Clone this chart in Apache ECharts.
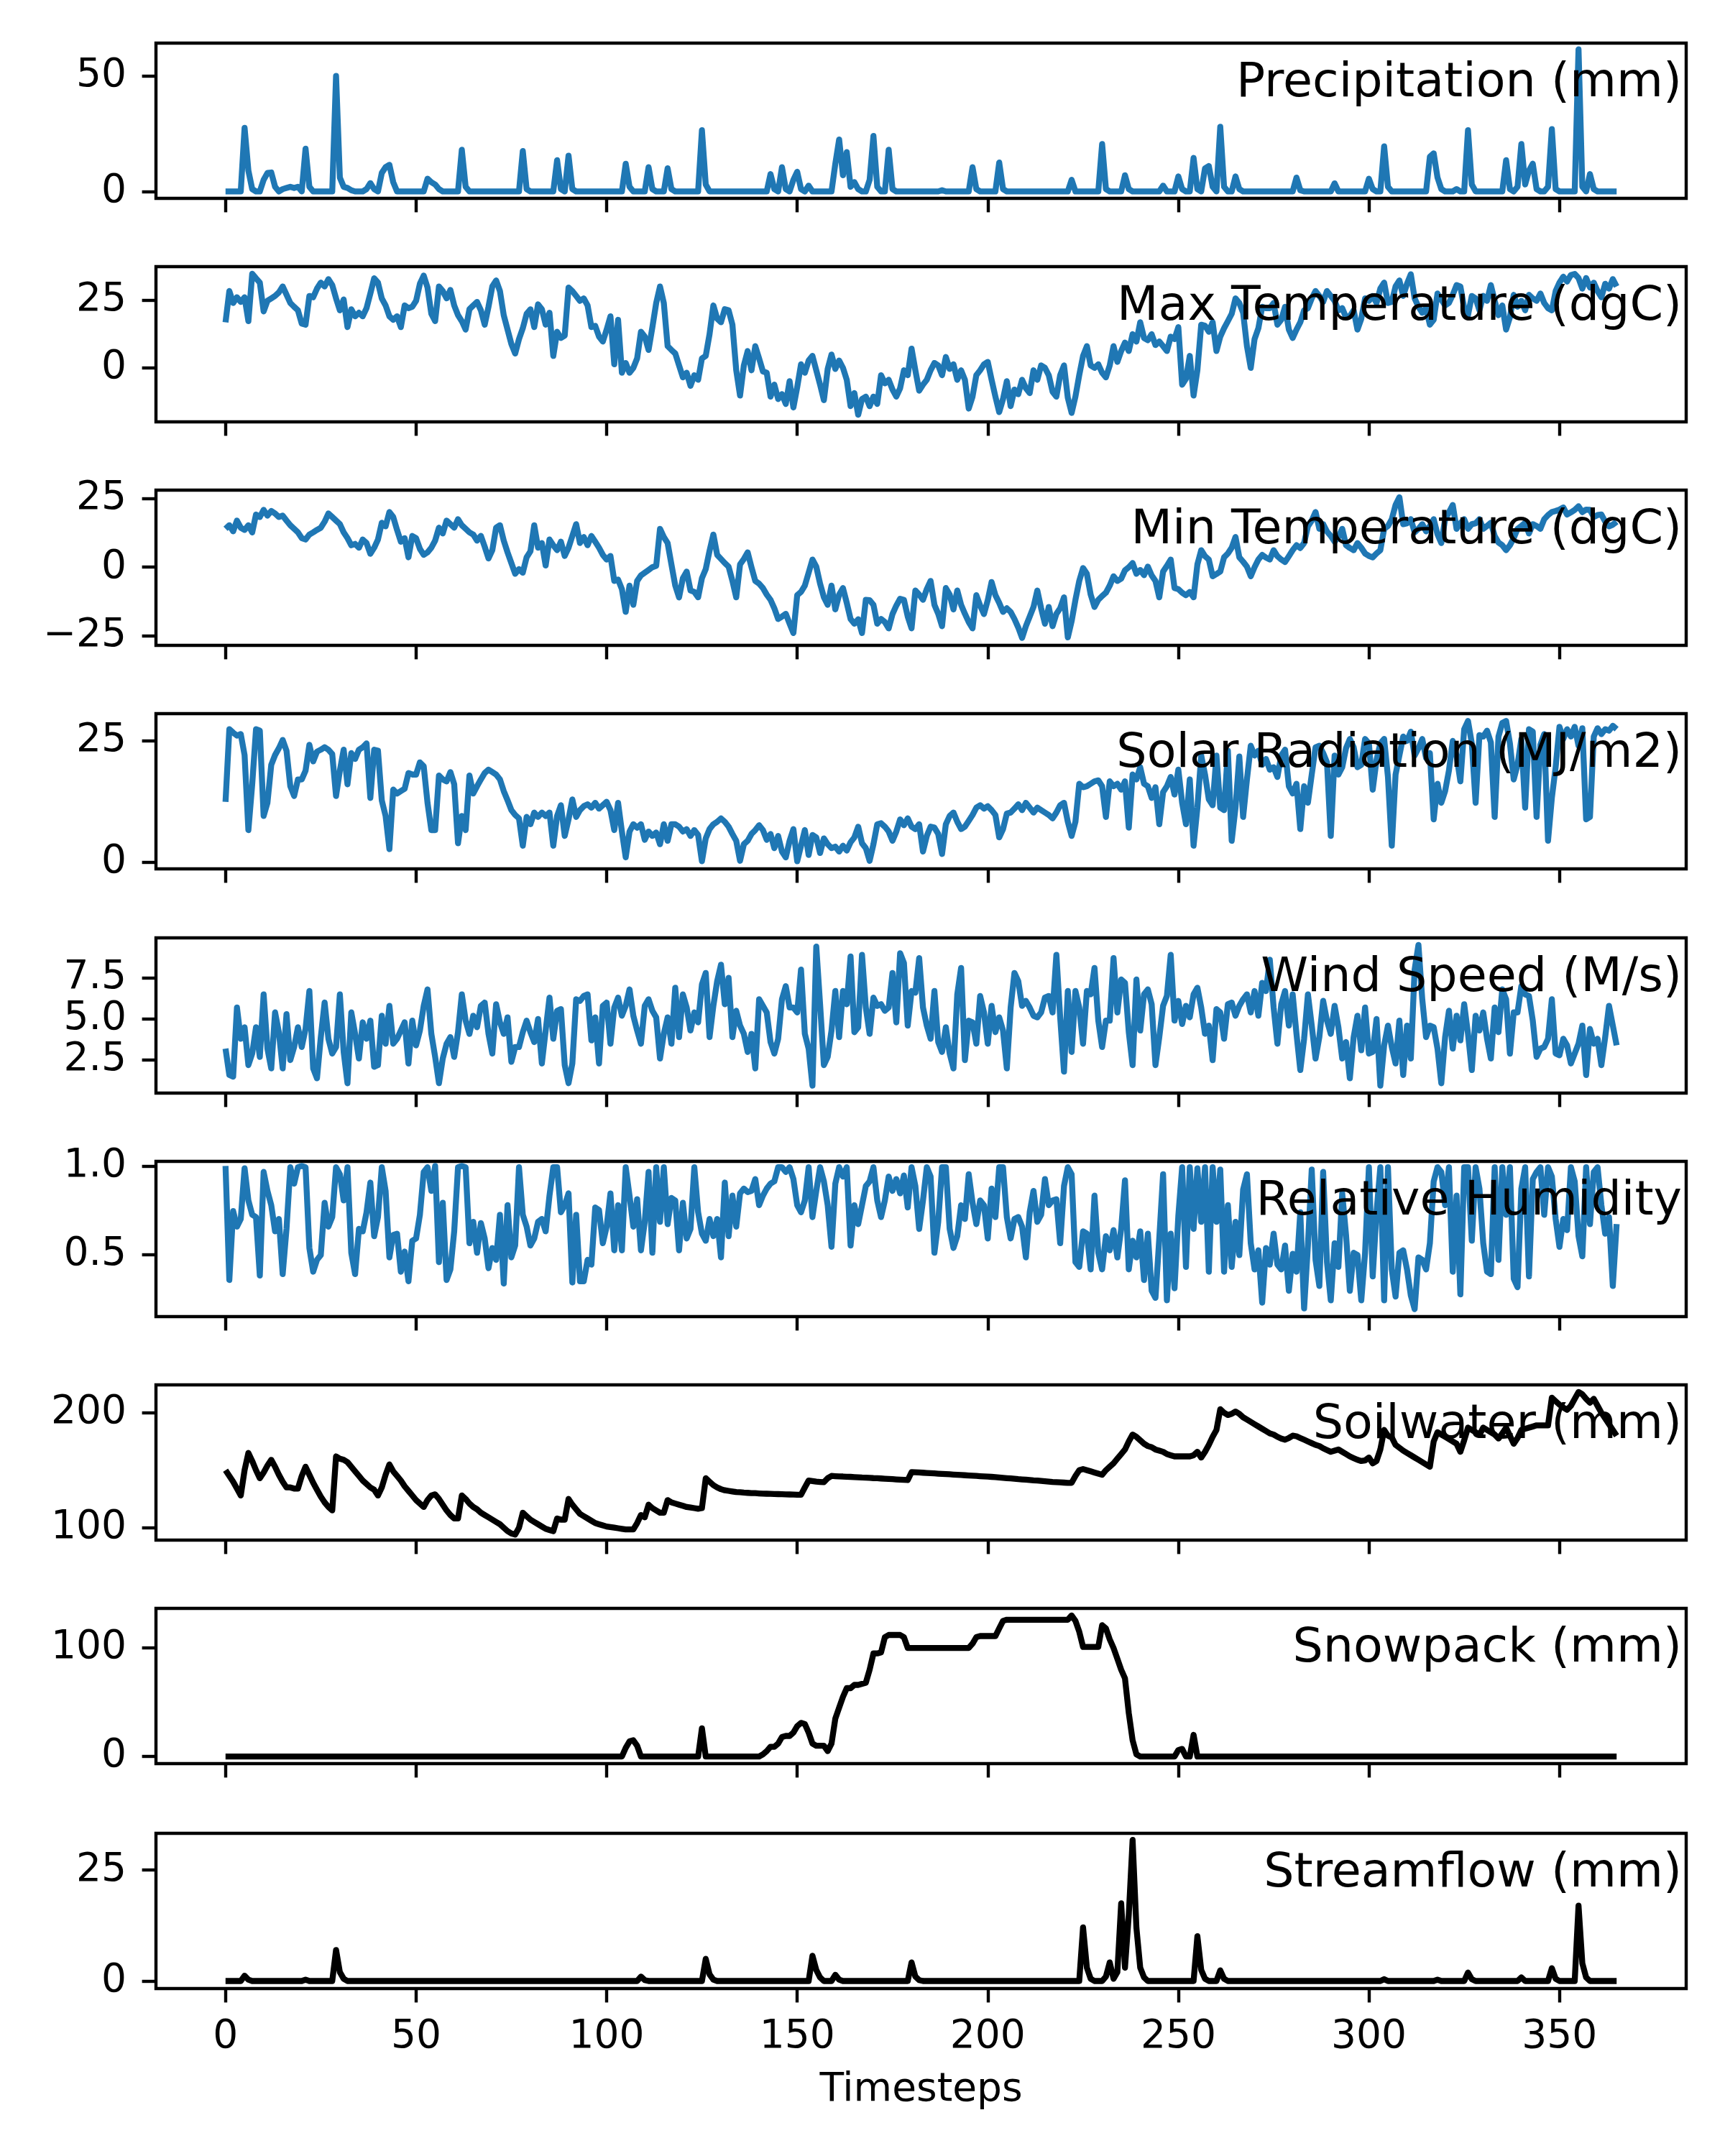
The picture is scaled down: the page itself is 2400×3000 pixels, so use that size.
<!DOCTYPE html>
<html>
<head>
<meta charset="utf-8">
<script src="https://cdn.jsdelivr.net/npm/echarts@6/dist/echarts.min.js"></script>
<style>html,body{margin:0;padding:0;background:#fff;}#c{width:2400px;height:3000px;}</style>
</head>
<body>
<div id="c"></div>
<script>
// ---------------- DATA ----------------
const panelTitles = ["Precipitation (mm)","Max Temperature (dgC)","Min Temperature (dgC)","Solar Radiation (MJ/m2)","Wind Speed (M/s)","Relative Humidity","Soilwater (mm)","Snowpack (mm)","Streamflow (mm)"];
const xTicks = [0,50,100,150,200,250,300,350];
const yTicks = [[0,50],[0,25],[-25,0,25],[0,25],[2.5,5,7.5],[0.5,1.0],[100,200],[0,100],[0,25]];
const yLimits = [[-3.0,64.2],[-19.9,37.3],[-28.5,28.1],[-1.36,30.5],[0.5,9.93],[0.148,1.026],[89.2,224.2],[-6.5,136.5],[-1.7,33.3]];

// precipitation: days with non-zero rain [day, mm]; all other days are 0
const precipEvents = [[5,27.5],[6,9],[7,1],[10,5],[11,8],[12,8.2],[13,2],[15,1],[16,1.5],[17,2],[18,1.5],[19,2],[21,18.5],[22,2],[29,50],[30,6],[31,2],[32,1.5],[33,0.5],[37,1],[38,3.6],[39,1],[41,8],[42,10.5],[43,11.5],[44,4],[53,5.5],[54,4],[55,3],[56,1],[62,18],[63,2],[78,17.5],[79,1],[87,13.5],[88,1],[90,15.5],[91,1],[105,12],[106,2],[111,10.5],[112,1],[116,10],[117,1],[125,26.5],[126,3],[143,7.5],[144,1],[146,10.5],[147,1],[149,5],[150,8.5],[151,1],[153,2.5],[160,12],[161,22.5],[162,7],[163,17],[164,2],[165,4],[166,1],[169,5],[170,24],[171,2],[174,18],[175,1],[188,0.5],[196,10.5],[197,1],[203,12.5],[204,1],[222,5],[230,20.5],[231,1],[236,7],[237,1],[246,2.5],[250,6.5],[251,1],[254,14.5],[255,1],[257,10],[258,11],[259,2],[261,28],[262,2],[265,6.5],[266,1],[281,6],[282,0.5],[291,3.5],[300,5.5],[301,1],[304,19.5],[305,2],[316,15],[317,16.5],[318,6],[319,1],[323,1],[326,26.5],[327,3],[336,13.5],[337,1],[339,2],[340,20.5],[341,3],[342,9],[343,12],[344,1],[347,2],[348,27],[349,1],[355,61.5],[356,2],[358,7.5],[359,1]];

const maxTemp = [16.8,28.3,23.9,26,24.3,26,17.2,34.7,33,31.4,20.8,24.7,25.6,26.5,27.8,30,27,23.9,22.5,21.2,16.3,15.9,26.5,26,29.2,31.4,30,32.7,30.5,25.6,21.2,25.2,15,21.6,19,20.3,19,22,27.4,33,31.4,25.6,23,19,17.7,19,15,23,22,22.5,24.7,31,34,29.6,19.9,17.2,30,28.3,25.6,28.7,23,19.4,17.2,14.1,21.6,23,24.3,21.2,15.9,22.5,30,32.2,28.3,19.4,14.1,8.8,5.3,10.6,14.6,19.9,21.6,15,23.4,21.6,15.9,20.3,4.4,13.3,11,11.9,29.6,28.3,26.5,24.7,25.6,23,15,15.5,11.5,9.7,14.1,19,1.3,17.7,-1.8,1.8,-1.8,0,3.5,13.3,11.5,6.6,15,23.9,30,23.9,8,6.6,5.3,0.9,-3.5,-1.8,-6.6,-2.7,-4.4,3.5,4.4,12.4,23,18.1,16.8,21.6,21.2,15.9,-0.9,-10.2,0.9,6.2,-0.9,8,3.5,-1.3,-1.8,-10.6,-6.2,-11.5,-9.7,-13.3,-4.9,-14.6,-7.1,1.3,-1.8,2.7,4.4,-0.9,-6.2,-11.9,-0.4,4.9,-0.4,2.7,0,-4.4,-14.1,-9.3,-17.3,-11.5,-10.6,-14.1,-10.6,-13.3,-2.7,-5.7,-4.4,-8,-10.6,-7.5,-0.9,-2.7,7.1,-0.9,-8.4,-6.2,-4.4,-0.9,1.8,0.9,-2.7,4,-0.4,1.3,-4.4,-0.9,-4.4,-15,-10.6,-2.7,-0.9,1.3,2.2,-4.4,-10.6,-16.3,-11.5,-4.9,-14.1,-8,-9.7,-4.4,-7.5,-9.3,-0.9,-4.4,0.9,0,-2.7,-8.8,-10.6,-2.7,0.9,-11,-16.6,-10.6,-2.7,4.4,8,0.9,0,1.3,-1.8,-3.5,0.9,8,2.2,6.2,9.3,6.2,12.4,9.7,16.8,11,10.2,12.4,8.4,9.7,8,6.2,11.5,10.6,15,-6.2,-4,4.4,-10.2,-0.9,15.9,15.5,13.3,16.8,6.2,11.5,14.6,17.2,19.9,25.6,23.9,20.3,8,0,10.6,14.6,22.5,22,22,23.9,15.9,17.7,22.5,14.1,11,14.1,16.8,21.2,22,25.6,28.3,26.5,24.3,28.3,26.5,24.7,21.2,22,18.6,19,21.2,14.1,18.1,25.6,24.7,26.5,23.9,29.2,31.4,23.9,24.3,30,32.2,26.5,31,34.5,25.6,22.5,20.3,22,15.9,17.7,27.4,25.2,23,23.9,26.9,30.5,30,22,19.4,26.5,25.6,21.2,26.5,24.7,30.5,24.7,19.4,23,14.1,18.6,26.9,22.5,24.7,21.2,26.9,25.6,24.7,27.4,23.9,22,21.2,28.3,31.4,33.6,31.8,34.2,34.6,33.1,29.2,33.1,29.6,31.4,28.3,26,31,29.2,32.7,30];

const minTemp = [14,15.3,13.1,17,14.4,13.6,15.3,12.7,19.2,18.3,20.9,18.8,20.5,19.6,18.3,18.8,17,15.3,14,12.7,10.6,10.1,11.9,12.7,13.6,14.4,16.6,19.6,18.3,17,15.7,12.7,10.6,8,8.5,7.1,10.1,8.8,4.9,7.1,10.1,16.2,14.9,20.1,18.3,13.6,9.3,10.6,3.6,11.4,10.6,6.7,4.5,5.4,7.1,9.7,14.4,12.3,17,15.7,14.4,17.5,15.3,14,12.7,11.9,9.7,11.4,7.5,3.2,6.2,14.4,15.3,9.7,5.4,1.5,-2.4,-0.7,-2,3.6,5.8,15.3,7.1,8.8,0.6,10.1,8,6.2,9.3,4.1,7.1,11.4,15.7,8.8,11,8,11.4,9.3,7.1,4.5,2.8,4.1,-5,-4.5,-8,-16.3,-6.7,-13.7,-5,-3,-2,-1,0,0.5,14,11,8.8,1,-6.7,-11,-4,-1.6,-8.5,-9,-11,-4,-0.7,6,11.9,4.5,3,1.5,0.2,-5,-11,1,3,5.4,0,-5,-6,-7.6,-10,-11.9,-15,-18.9,-18,-17,-20.6,-24,-10.2,-9,-6.7,-2,2.8,0.2,-6,-11,-13.7,-6.7,-15.4,-10,-7.6,-13,-18.9,-20.6,-19,-24,-11.9,-12,-13.7,-20.6,-18.9,-20,-22.3,-17.1,-14,-11.5,-11.9,-18,-22.3,-8.5,-10,-11.9,-8,-5,-13.7,-17,-21.5,-7.6,-10,-15.4,-8.5,-13.7,-17,-20,-22.3,-10.2,-14,-17.1,-12,-5.4,-10.2,-13,-16.3,-15,-16.3,-18.9,-22,-25.8,-21.5,-18,-14.5,-8.5,-15,-20.6,-14.5,-21.5,-17,-15,-11,-25.6,-19.7,-11.9,-5,-0.3,-2.4,-10,-14.5,-11.9,-10.5,-9.3,-6.7,-3.3,-5,-4.2,-1.1,0,1.5,-2.4,-1,-2.9,0.2,-3,-5,-11,-1.6,0.5,2.8,-7.6,-8,-9.3,-10.2,-9,-11,1,6.2,4,2.8,-3.3,-2.5,-1.6,3.6,5,7.1,11,3.6,2,0.2,-3.3,0,2.8,4.5,3.5,2.8,6.2,4,2.8,1.9,4,6.2,8,7,8.8,14.9,17,20.1,14,15.7,13,11.4,9.3,11,14,8,7,6.2,8.8,7.1,5,4.1,3.6,5,6.2,14,15,17.5,22.7,25.5,15.7,16,17.5,12.7,14,15.7,13.1,15,17.5,12,8.8,17.5,20,22.7,14,16,17.5,14,15.7,16,17.5,14,15,16.2,11.4,9,8,6.2,8,10.6,14,15,16.2,12.3,15.7,15,14,17.5,19,20.1,20.5,21,21.8,19.2,20,20.9,22.2,20.1,21,20.9,18.3,19,19.2,16.6,14.9,15.5,16.6];

const solarRad = [12.4,27.3,26.6,26,26.3,22,6.6,16,27.3,27,9.5,12.2,20,22,23.4,25.1,22.9,15.6,13.6,17,17,18.8,24.1,20.7,22.7,23.1,23.6,23.1,22.2,13.6,18.8,23.1,16,22.4,21.2,23.1,23.6,24.4,13.2,23.1,22.9,12.7,9.5,2.7,14.9,14.1,14.6,15.1,18.3,18,18,20.5,19.7,12.2,6.6,6.6,17.8,17,16.6,18.5,16,3.9,9.5,6.6,17.8,14.1,15.6,17,18.3,19,18.5,18,17,14.6,12.7,10.7,9.7,9,3.4,9.3,7.8,10.2,9.3,10.2,9.5,10.2,3.4,9.5,11.7,5.4,8.8,12.9,9.3,10.7,11.5,11.9,11.2,12.2,11,11.7,12.4,10.7,6.6,12.2,6.3,1,6.3,7.8,7.1,7.8,4.6,6.3,5.4,6.1,3.7,7.8,4.4,7.8,7.8,7.3,6.3,6.8,5.4,6.6,5.6,0.2,4.9,6.8,7.8,8.3,9,8.3,7.3,5.8,4.4,0.3,3.7,4.4,5.8,6.6,7.6,6.6,4.6,5.8,2.9,5.4,2.2,1,4.4,6.8,0.2,3.4,6.6,1.5,5.6,5.1,1.9,4.9,3.7,2.9,3.2,2.2,3.4,2.4,4.1,5.1,7.3,3.9,2.9,0.3,3.7,7.8,8,7.3,6.3,4.4,6.3,8.8,7.6,9,7.3,6.8,7.8,2.2,5.4,7.3,7.1,5.8,1.7,7.8,9.5,10.2,8.3,6.8,7.3,8.5,9.7,11.2,11.7,11,11.5,10.7,9.7,5.1,6.8,10,10.2,11,11.9,10.7,12.2,11.2,10.2,11.2,10.7,10.2,9.7,9,10.2,11.7,12.2,8.3,5.4,8.3,16.1,15.4,15.6,16.1,16.6,16.8,15.6,9.3,16.6,15.6,16.1,14.9,16.6,7.1,18,17,19.5,16.1,15.6,13.2,15.4,7.8,14.4,15.6,17.5,13.9,19,12.2,7.8,17,3.4,11.2,21.9,18,12.9,11.7,21.9,11.2,10.7,22.9,4.4,11.2,21.7,9.3,17,23.9,21.9,22.9,20,21.2,19,19.5,17.5,21.9,23.1,15.6,14.1,16.1,6.8,15.6,12.2,18,23.6,23.9,22.4,20.5,5.4,21.9,18,19.5,23.4,25.3,23.6,19.5,20,25.3,24.4,14.9,21,24.4,25.3,17.5,3.4,18,21.9,25.8,24.9,26.8,21.9,23.4,25.3,21.4,22.4,8.8,16.1,12.2,14.6,18.8,24.9,21.9,16.6,27.3,29,24.4,12.2,26.1,25.8,27,24.6,9.3,25.8,28.6,29,24.4,17,20,25.3,11.2,27.3,26.8,9.3,24.1,26.3,4.4,13.2,19.5,27.8,25.3,27.3,25.8,27.8,23.9,27.5,8.8,9.3,25.8,27.5,26.3,27.3,27,28,27.3];

const windSpeed = [3.2,1.6,1.5,5.7,3.8,4.5,2.2,2.9,4.5,2.7,6.5,3.2,2,5.4,4.2,2,5.3,2.5,3.3,4.5,3.3,4.4,6.7,2,1.4,3.9,6,3.8,2.9,3.3,6.5,3,1.1,5.4,4.1,2.6,4.8,3.8,4.9,2.1,2.2,5.2,3.5,5.8,3.5,3.8,4.3,4.8,2.3,4.9,3.4,4.3,5.8,6.8,4.1,2.7,1.1,2.6,3.5,3.9,2.7,4.2,6.5,4.9,4.1,5.2,4.5,5.8,6,4.1,2.9,5.9,4.8,4.1,5.1,2.4,3.3,3.3,4.2,4.9,4.2,3.6,5,2.3,4.3,6.3,3.8,5.5,5.6,2.2,1.1,2.3,6.2,6.1,6.4,6.5,3.7,5.1,2.3,5.8,6,3.5,5.7,6.3,5.2,5.8,6.8,5.2,4.3,3.5,5.8,6.2,5.5,5.1,2.6,4.1,5.1,3.5,6.9,3.9,6.5,5.7,4.3,5.4,4.8,7.1,7.8,3.9,5.8,7.3,8.3,5.9,7.5,3.9,5.5,4.6,4.1,3,4.1,2,6.2,5.8,5.4,3.6,2.9,3.8,6.2,7,5.7,5.7,5.4,8,4.1,3.2,0.95,9.4,5.9,2.2,2.7,4.3,6.7,3.9,6.7,5.9,8.8,4.2,4.5,8.9,5.7,4.1,6.3,5.8,5.9,5.5,5.7,7.8,4.8,9,8.4,4.6,6.7,6.6,8.7,5.7,4.6,3.8,6.7,3.6,3,4.5,2.9,2,6.5,8.1,2.5,4.9,4.8,3.5,6.4,5.4,3.5,5.8,4.2,5.1,4.3,2,5.7,7.8,7.3,5.8,6.1,5.7,5.2,5.1,5.4,6.3,6.4,5.4,8.9,5.1,1.8,6.7,3,6.7,5.7,3.5,6.7,6.5,8.1,4.9,3.3,4.9,4.9,8.7,5.4,7.4,7.2,4.2,2.2,7.4,4.3,6.5,6.8,5.9,2.2,3.9,5.8,6.4,8.9,4.9,6.1,4.7,5.8,5.1,6.5,6.9,5.7,4.1,4.6,2.5,5.6,5.4,3.8,5.9,6,5.2,5.8,6.2,6.5,5.4,6.7,5.2,7.2,6.7,8.6,5.7,3.5,5.9,6.7,4.6,6.5,4.1,1.9,3.8,6.5,4.6,2.6,3.9,6.1,4.9,4.1,5.8,4.5,2.6,3.6,1.4,3.9,5.2,3.1,5.7,2.9,3,5,0.95,3.4,4.6,3.3,2.3,4.9,1.6,4.6,2.6,8,9.5,6.2,3.9,4.6,4.5,3.2,1.1,3.9,5.5,3.2,5.2,3.7,5.9,4.1,1.9,5.2,4.3,5.4,3.8,2.6,5.7,4.2,6.8,6.2,2.9,5.4,5.4,7,6.5,6.4,4.9,2.7,3.2,3.3,3.8,6.2,2.9,2.8,3.8,3.4,2.3,2.9,3.5,4.6,1.6,4.4,3.5,3.8,2.2,3.9,5.8,4.6,3.4];

const relHumidity = [1.0,0.355,0.745,0.657,0.7,0.987,0.805,0.724,0.711,0.38,0.966,0.859,0.778,0.63,0.7,0.388,0.644,0.993,0.9,0.993,1.0,0.993,0.536,0.402,0.469,0.496,0.792,0.657,0.711,0.993,0.953,0.805,0.993,0.509,0.388,0.644,0.63,0.738,0.906,0.603,0.711,0.993,0.859,0.483,0.61,0.617,0.402,0.516,0.348,0.577,0.59,0.724,0.966,0.993,0.859,1.0,0.456,0.792,0.355,0.415,0.63,0.993,1.0,0.993,0.563,0.684,0.509,0.677,0.59,0.422,0.536,0.469,0.724,0.335,0.778,0.483,0.55,0.993,0.724,0.657,0.55,0.59,0.684,0.7,0.63,0.832,0.993,0.993,0.738,0.778,0.845,0.341,0.724,0.348,0.348,0.469,0.442,0.765,0.751,0.563,0.657,0.845,0.523,0.778,0.523,0.993,0.832,0.657,0.812,0.523,0.684,0.966,0.509,0.993,0.684,0.993,0.671,0.819,0.805,0.523,0.792,0.59,0.644,0.993,0.738,0.617,0.577,0.7,0.603,0.7,0.483,0.906,0.603,0.832,0.657,0.845,0.872,0.852,0.859,0.926,0.778,0.832,0.872,0.9,0.913,0.993,0.993,0.966,0.993,0.926,0.778,0.738,0.805,0.993,0.711,0.859,0.993,0.913,0.778,0.543,0.9,0.993,0.94,0.993,0.55,0.778,0.671,0.778,0.886,0.913,0.993,0.805,0.711,0.805,0.94,0.859,0.926,0.845,0.946,0.765,0.993,0.886,0.644,0.805,0.993,0.94,0.509,0.684,0.993,0.993,0.644,0.536,0.603,0.778,0.7,0.953,0.792,0.671,0.805,0.778,0.59,0.872,0.711,0.993,0.993,0.711,0.59,0.7,0.711,0.657,0.483,0.738,0.859,0.684,0.724,0.926,0.778,0.805,0.812,0.563,0.886,0.993,0.953,0.456,0.429,0.63,0.617,0.415,0.832,0.509,0.415,0.603,0.523,0.637,0.483,0.644,0.919,0.415,0.577,0.483,0.63,0.355,0.617,0.294,0.254,0.59,0.953,0.24,0.617,0.308,0.718,0.993,0.429,0.993,0.644,0.987,0.684,0.993,0.402,0.993,0.684,0.98,0.402,0.778,0.429,0.684,0.496,0.866,0.953,0.563,0.415,0.523,0.227,0.536,0.442,0.617,0.442,0.415,0.55,0.294,0.503,0.402,0.738,0.194,0.55,0.98,0.469,0.321,0.966,0.456,0.24,0.563,0.429,0.845,0.61,0.294,0.509,0.496,0.24,0.509,0.993,0.375,0.738,0.993,0.24,0.993,0.415,0.261,0.509,0.523,0.415,0.267,0.19,0.483,0.469,0.415,0.563,0.913,0.993,0.966,0.778,0.993,0.402,0.832,0.274,0.993,0.993,0.577,0.993,0.872,0.563,0.402,0.388,0.993,0.469,0.993,0.724,0.993,0.362,0.314,0.872,0.993,0.375,0.926,0.966,0.993,0.724,0.993,0.94,0.7,0.543,0.7,0.637,0.993,0.913,0.603,0.489,0.993,0.671,0.966,0.993,0.778,0.617,0.711,0.321,0.671];

const soilWater = [150,145,140,134,128,150,165,158,150,143,148,154,159,153,146,140,135,135,134,134,145,153,146,139,133,127,122,118,115,162,160,159,157,153,149,145,141,138,135,133,128,135,146,155,149,145,141,136,132,128,124,121,118,124,128,129,125,120,115,111,108,108,128,125,121,118,116,113,111,109,107,105,103,100,97,95,94,100,113,110,107,105,103,101,99,98,97,108,107,107,125,120,116,112,110,108,106,104,103,102,101,100.5,100,99.5,99,98.5,98.5,98.5,104,111,109,120,117,115,113,113,124,122,121,120,119,118,117.5,117,116.5,117,143,140,137,135,133.5,132.5,132,131.5,131,130.8,130.5,130.3,130.1,130,129.8,129.6,129.5,129.4,129.3,129.2,129.1,129,128.9,128.8,128.7,128.6,135,141,140.5,140,139.8,139.6,143,145,144.8,144.6,144.5,144.3,144.2,144,143.8,143.6,143.5,143.3,143.1,143,142.8,142.6,142.4,142.2,142,141.8,141.6,141.4,148.3,148.2,148,147.8,147.6,147.4,147.2,147,146.8,146.6,146.4,146.2,146,145.8,145.6,145.4,145.2,145,144.8,144.6,144.4,144.2,144,143.7,143.4,143.1,142.8,142.5,142.2,142,141.8,141.5,141.2,141,140.7,140.4,140.1,139.8,139.6,139.4,139.2,139,139,145,150,151,150,149,148,147,146,150,153,156,160,164,168,175,181,179,176,173,171,170,168,167,166,164,163,162,162,162,162,162,163,166,161,166,172,179,185,203,200,198,199,201,199,196,194,192,190,188,186,184,182,181,179,177.5,176.5,178,180,179.5,178,176.5,175,173.5,172,171,169,167.5,166,167,168,166,164,162,160.5,159,158,158.5,161,156,158,168,185,180,178.5,172,169.5,167,165,163,161,159,157,155,153,175,183,181,179,177,175,173,166,176,187,185,183,180.6,187,185,183,181,177.5,182,187,180,173,178,185,186,187,188,189,189,189,189,213,210,207,204.5,202.5,206,212,218,216,212,208.7,212,206,200,195,190,185,180];

// snowpack: non-zero days [day, mm]; all other days are 0
const snowEvents = [[105,8],[106,14],[107,15],[108,10],[125,26],[141,2],[142,5],[143,9],[144,9],[145,12],[146,18],[147,19],[148,19],[149,22],[150,28],[151,31],[152,30],[153,22],[154,12],[155,10],[156,10],[157,10],[158,5],[159,12],[160,35],[161,45],[162,55],[163,63],[164,63],[165,66],[166,66],[167,67],[168,68],[169,80],[170,95],[171,95],[172,96],[173,110],[174,112],[175,112],[176,112],[177,112],[178,110],[179,100],[180,100],[181,100],[182,100],[183,100],[184,100],[185,100],[186,100],[187,100],[188,100],[189,100],[190,100],[191,100],[192,100],[193,100],[194,100],[195,100],[196,104],[197,110],[198,111],[199,111],[200,111],[201,111],[202,111],[203,118],[204,125],[205,126],[206,126],[207,126],[208,126],[209,126],[210,126],[211,126],[212,126],[213,126],[214,126],[215,126],[216,126],[217,126],[218,126],[219,126],[220,126],[221,126],[222,130],[223,125],[224,115],[225,101],[226,101],[227,101],[228,101],[229,101],[230,121],[231,118],[232,108],[233,100],[234,90],[235,80],[236,72],[237,40],[238,15],[239,2],[250,6],[251,7],[254,20]];

// streamflow: non-zero days [day, mm]; all other days are 0
const streamEvents = [[5,1.2],[6,0.3],[21,0.3],[29,7],[30,2],[31,0.5],[109,1],[110,0.2],[126,5],[127,1.5],[128,0.3],[154,5.7],[155,2.5],[156,0.8],[160,1.4],[161,0.3],[180,4.2],[181,1],[182,0.2],[225,12.1],[226,3],[227,0.5],[231,1],[232,4.2],[233,0.5],[234,2],[235,17.5],[236,3],[237,15],[238,31.8],[239,12],[240,3],[241,0.8],[255,10.1],[256,2.5],[257,0.5],[261,2.4],[262,0.5],[304,0.4],[318,0.3],[326,1.9],[327,0.4],[340,0.8],[348,2.9],[349,0.5],[355,17],[356,4],[357,0.8]];

// ---------------- BUILD ----------------
const N = 366;
function fromEvents(ev){ const a = new Array(N).fill(0); ev.forEach(e => { a[e[0]] = e[1]; }); return a; }
const precip = fromEvents(precipEvents);
const snowpack = fromEvents(snowEvents);
const streamflow = fromEvents(streamEvents);
const allSeries = [precip, maxTemp, minTemp, solarRad, windSpeed, relHumidity, soilWater, snowpack, streamflow];
const colors = ['#1f77b4','#1f77b4','#1f77b4','#1f77b4','#1f77b4','#1f77b4','#000000','#000000','#000000'];
const decimals = [0,0,0,0,1,1,0,0,0];

const L = 217, R = 2346, H = 216;
const tops = [60,371,682,993,1305,1616,1927,2238,2551];
const FONT = 'DejaVu Sans';
const LW = 8.3, TW = 4.4, TL = 19.4;

const grids = [], xAxes = [], yAxes = [], series = [], graphics = [];
for (let i = 0; i < 9; i++) {
  grids.push({ left: L, top: tops[i], width: R - L, height: H, show: true, borderColor: '#000', borderWidth: TW, backgroundColor: 'rgba(0,0,0,0)' });
  xAxes.push({
    type: 'value', gridIndex: i, min: -18.25, max: 383.25, position: 'bottom',
    axisLine: { show: false, onZero: false }, splitLine: { show: false },
    axisTick: { show: true, length: TL, lineStyle: { color: '#000', width: TW }, customValues: xTicks },
    axisLabel: { show: i === 8, margin: 40, fontFamily: FONT, fontSize: 55, color: '#000', customValues: xTicks, formatter: v => String(v) }
  });
  const d = decimals[i];
  yAxes.push({
    type: 'value', gridIndex: i, min: yLimits[i][0], max: yLimits[i][1], position: 'left',
    axisLine: { show: false, onZero: false }, splitLine: { show: false },
    axisTick: { show: true, length: TL, lineStyle: { color: '#000', width: TW }, customValues: yTicks[i] },
    axisLabel: { show: true, margin: 41, padding: [12, 0, 0, 0], fontFamily: FONT, fontSize: 55, color: '#000', customValues: yTicks[i],
      formatter: v => (Number(v).toFixed(d)).replace('-', '\u2212') }
  });
  series.push({
    type: 'line', xAxisIndex: i, yAxisIndex: i, showSymbol: false, symbol: 'none', animation: false,
    data: allSeries[i].map((v, t) => [t, v]),
    lineStyle: { color: colors[i], width: LW, join: 'round', cap: 'butt' },
    z: 2
  });
  graphics.push({
    type: 'text', z: 100, x: R - 6, y: tops[i] + 57,
    style: { text: panelTitles[i], fontFamily: FONT, fontSize: 66.7, fill: '#000', align: 'right', verticalAlign: 'middle' }
  });
}
graphics.push({
  type: 'text', z: 100, x: (L + R) / 2, y: 2909,
  style: { text: 'Timesteps', fontFamily: FONT, fontSize: 55, fill: '#000', align: 'center', verticalAlign: 'middle' }
});

const chart = echarts.init(document.getElementById('c'), null, { renderer: 'canvas', width: 2400, height: 3000 });
chart.setOption({
  animation: false,
  backgroundColor: '#ffffff',
  grid: grids, xAxis: xAxes, yAxis: yAxes, series: series, graphic: graphics
});
</script>
</body>
</html>
